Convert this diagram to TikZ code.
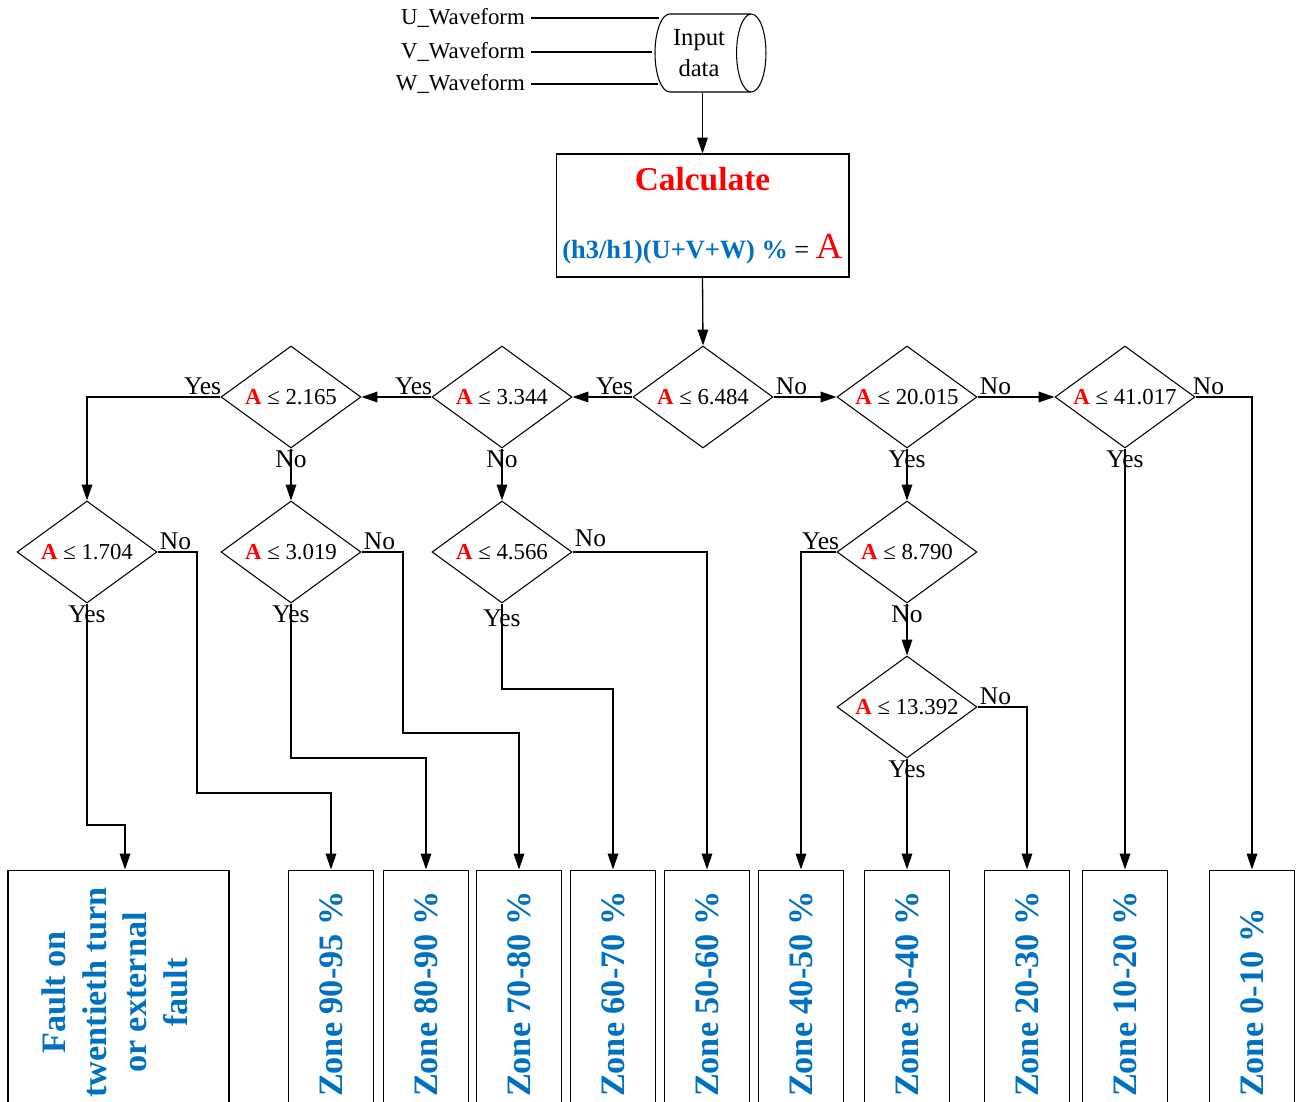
\documentclass[tikz,border=0pt]{standalone}
\usepackage{fontspec}
\setmainfont{Liberation Serif}
\usepackage{xcolor}
\usepackage{tikz}
\usetikzlibrary{arrows.meta,positioning,shapes.geometric}
\definecolor{zoneblue}{RGB}{0,112,192}
\newcommand{\cond}[1]{\textcolor{red}{\bfseries A} ≤ #1}
\newcommand{\zonetext}[1]{\rotatebox{90}{\makebox[4.18cm][l]{#1}}}

\begin{document}
\begin{tikzpicture}[x=0.02cm, y=-0.02cm,
  dec/.style={draw, diamond, aspect=1.37, inner sep=0pt, minimum width=2.8cm,
    minimum height=2.04cm, line width=0.6pt, font=\fontsize{13}{15}\selectfont},
  zone/.style={draw, minimum width=1.7cm, minimum height=4.9cm, inner sep=0pt,
    line width=0.6pt, text=zoneblue, font=\fontsize{19.5}{23}\selectfont\bfseries},
  arr/.style={-{Triangle[length=9pt,width=6pt]}, line width=0.75pt},
  lne/.style={line width=0.75pt},
  lbl/.style={font=\fontsize{14.5}{16}\selectfont, inner sep=1pt},
  wave/.style={font=\fontsize{13}{15}\selectfont, anchor=east}
]
\clip (0,0) rectangle (1296,1102);

% input data
\node[draw, cylinder, aspect=0.5, minimum width=1.56cm, minimum height=2.22cm,
  align=center, line width=0.6pt, font=\fontsize{14}{17.5}\selectfont]
  (inp) at (699,53) {Input\\data};
\node[wave] (uin) at (531,18) {U\_Waveform};
\node[wave] (vin) at (531,52) {V\_Waveform};
\node[wave] (win) at (531,84) {W\_Waveform};
\coordinate (ue) at (659,18);
\coordinate (ve) at (652,52);
\coordinate (we) at (658,84);
\draw[lne] (uin.east) -- (ue);
\draw[lne] (vin.east) -- (ve);
\draw[lne] (win.east) -- (we);

% calculation box
\node[draw, minimum width=5.86cm, minimum height=2.46cm, align=center,
  line width=0.6pt, font=\fontsize{15}{23}\selectfont] (calc) at (702.5,215.5)
  {{\color{red}\fontsize{19}{23}\selectfont\bfseries Calculate}\\[16pt]
   {\color{zoneblue}\bfseries (h3/h1)(U+V+W) \%} = {\color{red}\fontsize{21}{24}\selectfont A}};
\draw[arr] (inp.south -| calc.north) -- (calc.north);

% decisions
\node[dec] (d6484) at (703,397) {\cond{6.484}};
\node[dec] (d3344) at (502,397) {\cond{3.344}};
\node[dec] (d2165) at (291,397) {\cond{2.165}};
\node[dec] (d20015) at (907,397) {\cond{20.015}};
\node[dec] (d41017) at (1125,397) {\cond{41.017}};
\node[dec] (d1704) at (87,552) {\cond{1.704}};
\node[dec] (d3019) at (291,552) {\cond{3.019}};
\node[dec] (d4566) at (502,552) {\cond{4.566}};
\node[dec] (d8790) at (907,552) {\cond{8.790}};
\node[dec] (d13392) at (907,707) {\cond{13.392}};
\draw[arr] (calc.south) -- (d6484.north);

% results
\node[zone, minimum width=4.42cm] (fault) at (118.5,992.5)
  {\rotatebox{90}{\begin{tabular}{@{}c@{}}Fault on\\twentieth turn\\or external\\fault\end{tabular}}};
\node[zone] (z9095) at (331,992.5) {\zonetext{Zone 90-95 \%}};
\node[zone] (z8090) at (426,992.5) {\zonetext{Zone 80-90 \%}};
\node[zone] (z7080) at (519,992.5) {\zonetext{Zone 70-80 \%}};
\node[zone] (z6070) at (613,992.5) {\zonetext{Zone 60-70 \%}};
\node[zone] (z5060) at (707,992.5) {\zonetext{Zone 50-60 \%}};
\node[zone] (z4050) at (801,992.5) {\zonetext{Zone 40-50 \%}};
\node[zone] (z3040) at (907,992.5) {\zonetext{Zone 30-40 \%}};
\node[zone] (z2030) at (1027,992.5) {\zonetext{Zone 20-30 \%}};
\node[zone] (z1020) at (1125,992.5) {\zonetext{Zone 10-20 \%}};
\node[zone] (z010) at (1252,992.5) {\zonetext{Zone 0-10 \%}};

% bends
\coordinate (kA) at (125,825);
\coordinate (kB) at (197,793);
\coordinate (kC) at (426,758);
\coordinate (kD) at (403,733);
\coordinate (kE) at (613,689);

% main row
\draw[arr] (d6484.west) node[lbl, anchor=south east, xshift=0.06cm] (l1) {Yes} -- (d3344.east);
\draw[arr] (d3344.west) node[lbl, anchor=south east, xshift=0.06cm] (l2) {Yes} -- (d2165.east);
\draw[arr] (d2165.west) node[lbl, anchor=south east, xshift=0.06cm] (l3) {Yes} -| (d1704.north);
\draw[arr] (d2165.south) node[lbl, anchor=north] (l4) {No} -- (d3019.north);
\draw[arr] (d3344.south) node[lbl, anchor=north] (l5) {No} -- (d4566.north);
\draw[arr] (d6484.east) node[lbl, anchor=south west] (l6) {No} -- (d20015.west);
\draw[arr] (d20015.east) node[lbl, anchor=south west] (l7) {No} -- (d41017.west);
\draw[arr] (d41017.east) node[lbl, anchor=south west, xshift=-0.1cm] (l8) {No} -| (z010.north);
\draw[arr] (d41017.south) node[lbl, anchor=north] (l9) {Yes} -- (z1020.north);
\draw[arr] (d20015.south) node[lbl, anchor=north] (l10) {Yes} -- (d8790.north);

% right branch
\draw[arr] (d8790.west) node[lbl, anchor=south east, xshift=0.1cm] (l11) {Yes} -| (z4050.north);
\draw[arr] (d8790.south) node[lbl, anchor=north] (l12) {No} -- (d13392.north);
\draw[arr] (d13392.south) node[lbl, anchor=north] (l13) {Yes} -- (z3040.north);
\draw[arr] (d13392.east) node[lbl, anchor=south west] (l14) {No} -| (z2030.north);

% left branches
\draw[arr] (d1704.south) node[lbl, anchor=north] (l15) {Yes} |- (kA) -- (kA |- fault.north);
\draw[arr] (d1704.east) node[lbl, anchor=south west] (l16) {No} -| (kB) -| (z9095.north);
\draw[arr] (d3019.south) node[lbl, anchor=north] (l17) {Yes} |- (kC) -- (z8090.north);
\draw[arr] (d3019.east) node[lbl, anchor=south west] (l18) {No} -| (kD) -| (z7080.north);
\draw[arr] (d4566.south) node[lbl, anchor=north, yshift=-0.08cm] (l19) {Yes} |- (kE) -- (z6070.north);
\draw[arr] (d4566.east) node[lbl, anchor=south west, yshift=0.06cm] (l20) {No} -| (z5060.north);
\end{tikzpicture}
\end{document}
